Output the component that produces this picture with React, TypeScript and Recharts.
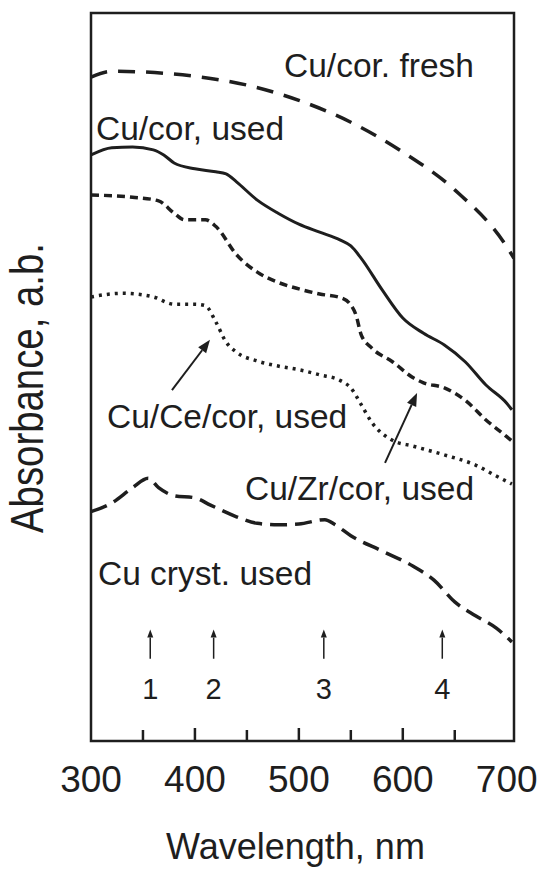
import { LineChart, Line, XAxis, YAxis, ReferenceArea, ReferenceDot, ReferenceLine } from 'recharts';

const FONT = '"Liberation Sans", Arial, sans-serif';
const INK = '#1e1e1e';

// wavelength (nm) and absorbance (a.u.)
const freshNm = [300, 320, 350, 400, 450, 500, 550, 600, 650, 700, 707];
const freshAbs = [9.12, 9.2, 9.19, 9.13, 9.01, 8.8, 8.5, 8.09, 7.57, 6.79, 6.63];

const usedNm = [300, 320, 340, 360, 370, 380, 400, 420, 430, 440, 460, 480, 500, 520, 540, 550, 560, 580, 600, 620, 640, 660, 680, 700, 705];
const usedAbs = [8.05, 8.15, 8.16, 8.12, 8.05, 7.94, 7.86, 7.82, 7.79, 7.68, 7.43, 7.25, 7.1, 6.99, 6.88, 6.8, 6.63, 6.2, 5.81, 5.6, 5.44, 5.21, 4.89, 4.64, 4.55];

const zrNm = [300, 340, 365, 380, 390, 410, 420, 440, 460, 480, 500, 520, 540, 550, 555, 560, 570, 590, 610, 620, 640, 660, 680, 700, 705];
const zrAbs = [7.5, 7.47, 7.42, 7.25, 7.16, 7.16, 7.07, 6.68, 6.44, 6.3, 6.21, 6.14, 6.09, 5.99, 5.85, 5.58, 5.4, 5.21, 4.99, 4.92, 4.85, 4.68, 4.41, 4.18, 4.12];

const ceNm = [300, 330, 360, 380, 400, 410, 420, 430, 440, 460, 480, 500, 520, 540, 550, 560, 570, 590, 610, 640, 670, 690, 705];
const ceAbs = [6.1, 6.15, 6.1, 6.0, 6.0, 5.98, 5.76, 5.48, 5.34, 5.22, 5.15, 5.1, 5.03, 4.95, 4.85, 4.62, 4.38, 4.13, 4.05, 3.93, 3.79, 3.64, 3.53];

const crystNm = [300, 320, 340, 355, 365, 380, 400, 415, 440, 460, 480, 500, 525, 535, 550, 580, 610, 630, 650, 670, 690, 705];
const crystAbs = [3.15, 3.27, 3.48, 3.61, 3.48, 3.37, 3.34, 3.24, 3.08, 2.99, 2.97, 2.98, 3.04, 2.97, 2.82, 2.61, 2.4, 2.21, 1.91, 1.72, 1.55, 1.36];

const xTicks = [300, 350, 400, 450, 500, 550, 600, 650, 700];

// curve labels
const labelText = ['Cu/cor. fresh', 'Cu/cor, used', 'Cu/Ce/cor, used', 'Cu/Zr/cor, used', 'Cu cryst. used'];
const labelNm = [485.7, 304.8, 315.4, 448.2, 306.7];
const labelAbs = [9.12, 8.26, 4.3, 3.31, 2.14];

// numbered band positions
const peakNo = ['1', '2', '3', '4'];
const peakNm = [357, 418, 524, 638];

// pointer arrows: [fromNm, fromAbs, toNm, toAbs]
const pointers = [
  [377.9, 4.82, 414.5, 5.51],
  [582.9, 3.82, 613.7, 4.78],
];

const toPoints = (nm: number[], abs: number[]) => nm.map((x, i) => ({ nm: x, a: abs[i] }));

const series = [
  { name: 'fresh', data: toPoints(freshNm, freshAbs), dash: '17 11', width: 3.5 },
  { name: 'used', data: toPoints(usedNm, usedAbs), dash: undefined, width: 3 },
  { name: 'zr', data: toPoints(zrNm, zrAbs), dash: '8 5', width: 3.5 },
  { name: 'ce', data: toPoints(ceNm, ceAbs), dash: '3 5', width: 3.5 },
  { name: 'cryst', data: toPoints(crystNm, crystAbs), dash: '17 8', width: 3.5 },
];

function XTick(props: any) {
  const { x, y, payload } = props;
  const v = payload.value as number;
  const edge = v === 300 || v === 700;
  const len = v % 100 === 0 ? 13 : 11;
  return (
    <g>
      {!edge && <line x1={x} x2={x} y1={y} y2={y - len} stroke={INK} strokeWidth={2.5} />}
      {v % 100 === 0 && (
        <text x={x} y={y + 51} textAnchor="middle" fontSize={37} fontFamily={FONT} fill={INK}>
          {v}
        </text>
      )}
    </g>
  );
}

function Arrow(props: any) {
  const { x1, y1, x2, y2, head = 9, half = 3.5, sw = 1.5 } = props;
  const dx = x2 - x1;
  const dy = y2 - y1;
  const l = Math.sqrt(dx * dx + dy * dy) || 1;
  const ux = dx / l;
  const uy = dy / l;
  const bx = x2 - ux * head;
  const by = y2 - uy * head;
  const pts = `${x2},${y2} ${bx - uy * half},${by + ux * half} ${bx + uy * half},${by - ux * half}`;
  return (
    <g>
      <line x1={x1} y1={y1} x2={bx} y2={by} stroke={INK} strokeWidth={sw} />
      <polygon points={pts} fill={INK} />
    </g>
  );
}

export default function App() {
  return (
    <div style={{ position: 'absolute', left: 0, top: 0, background: '#fff' }}>
      <LineChart width={546} height={869} margin={{ top: 13, right: 32, left: 0, bottom: 0 }}>
        <XAxis
          type="number"
          dataKey="nm"
          domain={[300, 707]}
          ticks={xTicks}
          interval={0}
          allowDataOverflow
          axisLine={false}
          tickLine={false}
          tickSize={0}
          tickMargin={0}
          tick={<XTick />}
          height={128}
          label={{
            content: (p: any) => {
              const vb = p.viewBox;
              return (
                <text x={vb.x + vb.width / 2 - 7} y={vb.y + 118} textAnchor="middle" fontSize={36} fontFamily={FONT} fill={INK}>
                  Wavelength, nm
                </text>
              );
            },
          }}
        />
        <YAxis
          type="number"
          domain={[0, 10]}
          width={91}
          tick={false}
          tickLine={false}
          axisLine={false}
          allowDataOverflow
          label={{
            content: () => (
              <text
                x={43}
                y={388}
                transform="rotate(-90, 43, 388)"
                textAnchor="middle"
                fontSize={47}
                fontFamily={FONT}
                fill={INK}
                textLength={290}
                lengthAdjust="spacingAndGlyphs"
              >
                Absorbance, a.b.
              </text>
            ),
          }}
        />
        <ReferenceArea x1={300} x2={707} y1={0} y2={10} fill="none" stroke={INK} strokeWidth={2.5} />
        {series.map((s) => (
          <Line
            key={s.name}
            data={s.data}
            dataKey="a"
            type="monotone"
            stroke={INK}
            strokeWidth={s.width}
            strokeDasharray={s.dash}
            dot={false}
            activeDot={false}
            isAnimationActive={false}
          />
        ))}
        {labelText.map((t, i) => (
          <ReferenceDot
            key={t}
            x={labelNm[i]}
            y={labelAbs[i]}
            r={0}
            shape={(p: any) => (
              <text x={p.cx} y={p.cy} fontSize={33.5} fontFamily={FONT} fill={INK}>
                {t}
              </text>
            )}
          />
        ))}
        {peakNo.map((n, i) => (
          <ReferenceDot
            key={'n' + n}
            x={peakNm[i]}
            y={0.577}
            r={0}
            shape={(p: any) => (
              <text x={p.cx} y={p.cy} textAnchor="middle" fontSize={29} fontFamily={FONT} fill={INK}>
                {n}
              </text>
            )}
          />
        ))}
        {peakNm.map((nm) => (
          <ReferenceLine
            key={'a' + nm}
            segment={[
              { x: nm, y: 1.13 },
              { x: nm, y: 1.53 },
            ]}
            shape={(p: any) => <Arrow {...p} head={8} half={3} sw={1.5} />}
          />
        ))}
        {pointers.map((pt, i) => (
          <ReferenceLine
            key={'p' + i}
            segment={[
              { x: pt[0], y: pt[1] },
              { x: pt[2], y: pt[3] },
            ]}
            shape={(p: any) => <Arrow {...p} head={13} half={5} sw={2} />}
          />
        ))}
      </LineChart>
    </div>
  );
}
